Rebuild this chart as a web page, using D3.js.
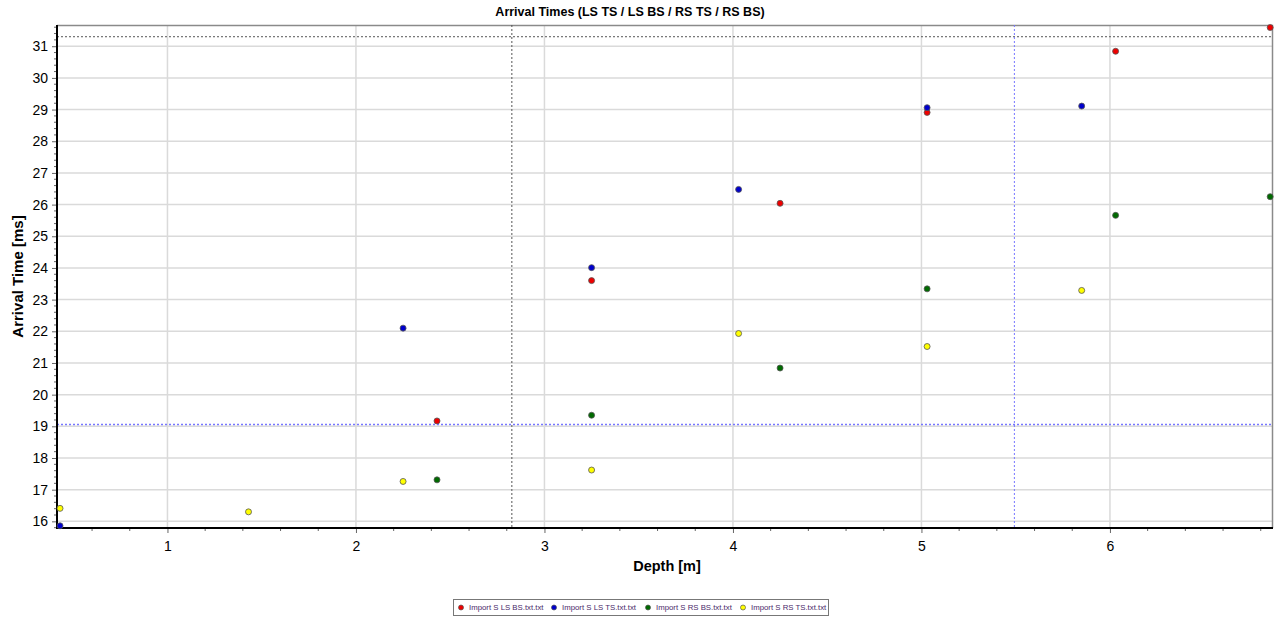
<!DOCTYPE html>
<html>
<head>
<meta charset="utf-8">
<script src="https://cdn.jsdelivr.net/npm/d3@7"></script>
<style>
  body { margin: 0; background: #fff; }
  svg { display: block; font-family: "Liberation Sans", Arial, sans-serif; }
</style>
</head>
<body>
<svg width="1280" height="619"></svg>
<script>
// values
var seriesNames = ["Import S LS BS.txt.txt", "Import S LS TS.txt.txt", "Import S RS BS.txt.txt", "Import S RS TS.txt.txt"];
var seriesColors = ["#ee0000", "#0000cc", "#006a00", "#ffff00"];

var depthLSBS = [2.43, 3.25, 4.25, 5.03, 6.03, 6.85];
var timeLSBS  = [19.17, 23.60, 26.04, 28.91, 30.84, 31.59];
var depthLSTS = [0.43, 2.25, 3.25, 4.03, 5.03, 5.85];
var timeLSTS  = [15.86, 22.10, 24.01, 26.48, 29.06, 29.11];
var depthRSBS = [2.43, 3.25, 4.25, 5.03, 6.03, 6.85];
var timeRSBS  = [17.31, 19.35, 20.84, 23.34, 25.66, 26.25];
var depthRSTS = [0.43, 1.43, 2.25, 3.25, 4.03, 5.03, 5.85];
var timeRSTS  = [16.41, 16.30, 17.26, 17.62, 21.93, 21.52, 23.29];

var xTicks = [1, 2, 3, 4, 5, 6];
var yTicks = [16, 17, 18, 19, 20, 21, 22, 23, 24, 25, 26, 27, 28, 29, 30, 31];
var xDomain = [0.414, 6.865],
    yDomain = [15.79, 31.67];

// crosshair cursors (black and blue)
var cursorBlack = {x: 2.827, y: 31.30},
    cursorBlue = {x: 5.493, y: 19.06};

var svg = d3.select("svg"),
    margin = {top: 25, right: 7, bottom: 91, left: 57},
    width = svg.attr("width") - margin.left - margin.right,
    height = svg.attr("height") - margin.top - margin.bottom,
    g = svg.append("g").attr("transform", "translate(" + margin.left + "," + margin.top + ")");

var x = d3.scaleLinear().domain(xDomain).range([0, width]),
    y = d3.scaleLinear().domain(yDomain).range([height, 0]);

var series = [
  {name: seriesNames[0], color: seriesColors[0], xs: depthLSBS, ys: timeLSBS},
  {name: seriesNames[1], color: seriesColors[1], xs: depthLSTS, ys: timeLSTS},
  {name: seriesNames[2], color: seriesColors[2], xs: depthRSBS, ys: timeRSBS},
  {name: seriesNames[3], color: seriesColors[3], xs: depthRSTS, ys: timeRSTS}
];

svg.append("text")
    .attr("x", 630)
    .attr("y", 16)
    .attr("text-anchor", "middle")
    .style("font-size", "12.5px")
    .style("font-weight", "bold")
    .text("Arrival Times (LS TS / LS BS / RS TS / RS BS)");

// grid
g.append("g").selectAll("line.gx")
    .data(xTicks)
  .enter().append("line")
    .attr("x1", function(d) { return x(d); })
    .attr("x2", function(d) { return x(d); })
    .attr("y1", 0).attr("y2", height)
    .attr("stroke", "#dadada").attr("stroke-width", 1.5);

g.append("g").selectAll("line.gy")
    .data(yTicks)
  .enter().append("line")
    .attr("y1", function(d) { return y(d); })
    .attr("y2", function(d) { return y(d); })
    .attr("x1", 0).attr("x2", width)
    .attr("stroke", "#dadada").attr("stroke-width", 1.5);

// top / right frame
g.append("path")
    .attr("d", "M0,0.5H" + (width - 0.5) + "V" + height)
    .attr("fill", "none")
    .attr("stroke", "#8a8a8a")
    .attr("stroke-width", 1.5);

// cursors
g.append("line")
    .attr("x1", 0).attr("x2", width)
    .attr("y1", y(cursorBlack.y)).attr("y2", y(cursorBlack.y))
    .attr("stroke", "#555").attr("stroke-dasharray", "2,2");
g.append("line")
    .attr("x1", x(cursorBlack.x)).attr("x2", x(cursorBlack.x))
    .attr("y1", 0).attr("y2", height)
    .attr("stroke", "#555").attr("stroke-dasharray", "2,2");
g.append("line")
    .attr("x1", 0).attr("x2", width)
    .attr("y1", y(cursorBlue.y)).attr("y2", y(cursorBlue.y))
    .attr("stroke", "#7777ff").attr("stroke-width", 1.5).attr("stroke-dasharray", "2,2");
g.append("line")
    .attr("x1", x(cursorBlue.x)).attr("x2", x(cursorBlue.x))
    .attr("y1", 0).attr("y2", height)
    .attr("stroke", "#7777ff").attr("stroke-dasharray", "2,2");

// minor ticks
var xMinor = d3.range(0.6, 6.85, 0.2).filter(function(v) { return Math.abs(v - Math.round(v)) > 0.01; });
var yMinor = d3.range(15.8, 31.7, 0.2).filter(function(v) { return Math.abs(v - Math.round(v)) > 0.01; });

g.append("g")
    .attr("transform", "translate(0," + height + ")")
    .selectAll("line").data(xMinor)
  .enter().append("line")
    .attr("x1", function(d) { return x(d); })
    .attr("x2", function(d) { return x(d); })
    .attr("y1", 0).attr("y2", 3)
    .attr("stroke", "#666");

g.append("g")
    .selectAll("line").data(yMinor)
  .enter().append("line")
    .attr("y1", function(d) { return y(d); })
    .attr("y2", function(d) { return y(d); })
    .attr("x1", 0).attr("x2", -3)
    .attr("stroke", "#666");

// axes
var xAxis = g.append("g")
    .attr("class", "axis axis--x")
    .attr("transform", "translate(0," + height + ")")
    .call(d3.axisBottom(x).tickValues(xTicks).tickSize(5).tickPadding(8).tickFormat(d3.format("d")));

var yAxis = g.append("g")
    .attr("class", "axis axis--y")
    .call(d3.axisLeft(y).tickValues(yTicks).tickSize(5).tickPadding(4).tickFormat(d3.format("d")));

g.selectAll(".axis .domain").remove();
g.selectAll(".axis text")
    .attr("fill", "#000")
    .style("font-size", "14px")
    .style("font-family", "'Liberation Sans', Arial, sans-serif");
g.selectAll(".axis line").attr("stroke", "#666");

g.append("path")
    .attr("d", "M0,0V" + height + "H" + width)
    .attr("fill", "none")
    .attr("stroke", "#000")
    .attr("stroke-width", 2);

svg.append("text")
    .attr("transform", "translate(23," + (margin.top + height / 2) + ") rotate(-90)")
    .attr("text-anchor", "middle")
    .style("font-size", "15px")
    .style("font-weight", "bold")
    .text("Arrival Time [ms]");

svg.append("text")
    .attr("x", margin.left + width / 2 + 2)
    .attr("y", 571)
    .attr("text-anchor", "middle")
    .style("font-size", "14.5px")
    .style("font-weight", "bold")
    .text("Depth [m]");

// points
var s = g.selectAll(".series")
    .data(series)
  .enter().append("g")
    .attr("class", "series");

s.selectAll("circle")
    .data(function(d) { return d.xs.map(function(v, i) { return {x: v, y: d.ys[i], color: d.color}; }); })
  .enter().append("circle")
    .attr("cx", function(d) { return x(d.x); })
    .attr("cy", function(d) { return y(d.y); })
    .attr("r", 3)
    .attr("fill", function(d) { return d.color; })
    .attr("stroke", "#555")
    .attr("stroke-width", 0.8);

// legend
var legend = svg.append("g").attr("transform", "translate(453,599)");
legend.append("rect")
    .attr("x", 0.5).attr("y", 0.5)
    .attr("width", 375).attr("height", 16)
    .attr("fill", "#fff")
    .attr("stroke", "#777");

var legendX = [8, 101, 195, 290];
var item = legend.selectAll(".item")
    .data(series)
  .enter().append("g")
    .attr("transform", function(d, i) { return "translate(" + legendX[i] + ",8.5)"; });

item.append("circle")
    .attr("r", 2.5)
    .attr("fill", function(d) { return d.color; })
    .attr("stroke", "#555")
    .attr("stroke-width", 0.7);

item.append("text")
    .attr("x", 8)
    .attr("dy", "0.35em")
    .attr("fill", "#4a2a6a")
    .style("font-size", "7.8px")
    .text(function(d) { return d.name; });
</script>
</body>
</html>
